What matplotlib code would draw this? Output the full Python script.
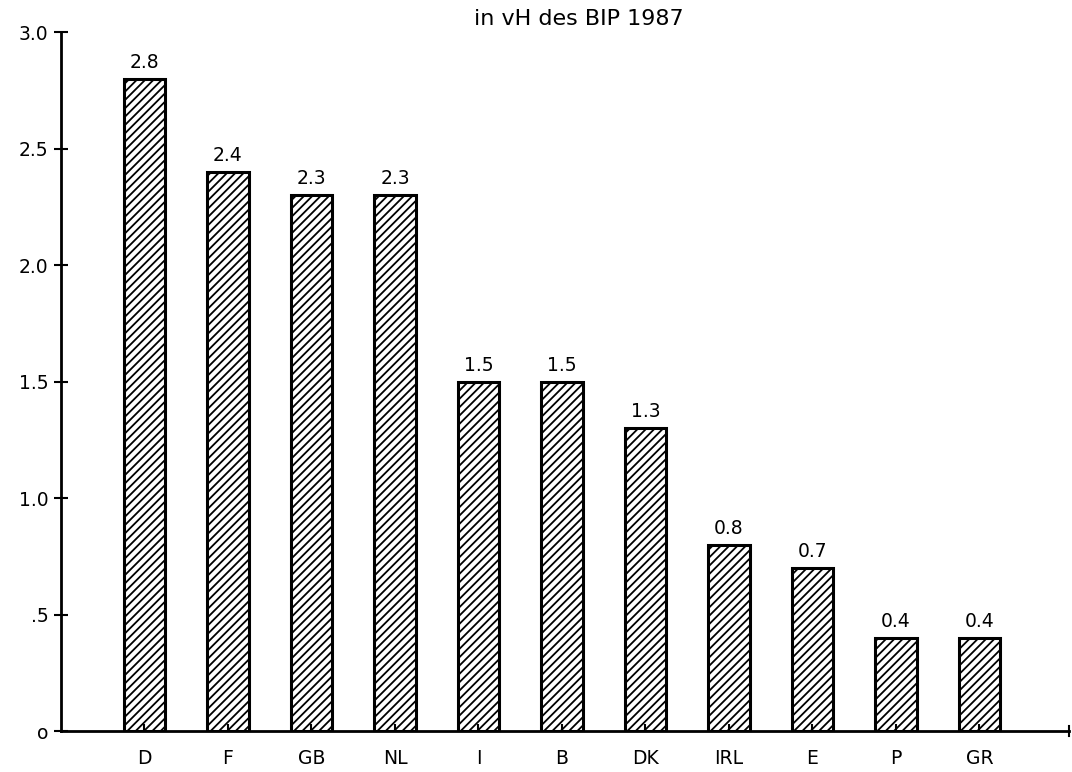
import numpy as np
import matplotlib
matplotlib.use("Agg")
import matplotlib.pyplot as plt

# Staatliche Ausgaben in vH des BIP 1987
countries = ["D", "F", "GB", "NL", "I", "B", "DK", "IRL", "E", "P", "GR"]
values = [2.8, 2.4, 2.3, 2.3, 1.5, 1.5, 1.3, 0.8, 0.7, 0.4, 0.4]
value_labels = ["2.8", "2.4", "2.3", "2.3", "1.5", "1.5", "1.3", "0.8", "0.7", "0.4", "0.4"]
y_ticks = [0, 0.5, 1.0, 1.5, 2.0, 2.5, 3.0]
y_tick_labels = ["o", ".5", "1.0", "1.5", "2.0", "2.5", "3.0"]

plt.rcParams["hatch.linewidth"] = 1.3
plt.rcParams["font.family"] = "DejaVu Sans"

fig = plt.figure(figsize=(10.72, 7.72), dpi=100)
ax = fig.add_axes([0.0569, 0.0531, 0.9401, 0.9054])

x = np.arange(len(countries))
bars = ax.bar(x, values, width=0.5, color="white", edgecolor="black",
              linewidth=2.2, hatch="////")

for xi, v, lab in zip(x, values, value_labels):
    ax.text(xi, v + 0.03, lab, ha="center", va="bottom", fontsize=13.5)

ax.set_xlim(-1.0, 11.07)
ax.set_ylim(0, 3.0)
ax.set_xticks(x)
ax.set_xticklabels(countries, fontsize=13.5)
ax.set_yticks(y_ticks)
ax.set_yticklabels(y_tick_labels, fontsize=13.5)

ax.tick_params(axis="y", direction="inout", length=10, width=1.5, pad=4)
ax.tick_params(axis="x", direction="in", length=5, width=1.5, pad=13)

ax.spines["top"].set_visible(False)
ax.spines["right"].set_visible(False)
ax.spines["left"].set_linewidth(2)
ax.spines["bottom"].set_linewidth(2)

# end tick on the x axis
ax.plot([11.07, 11.07], [-0.02, 0.02], color="black", lw=1.5, clip_on=False)

fig.text(0.54, 0.975, "in vH des BIP 1987", ha="center", va="center", fontsize=16)

fig.savefig("out.png", dpi=100)
